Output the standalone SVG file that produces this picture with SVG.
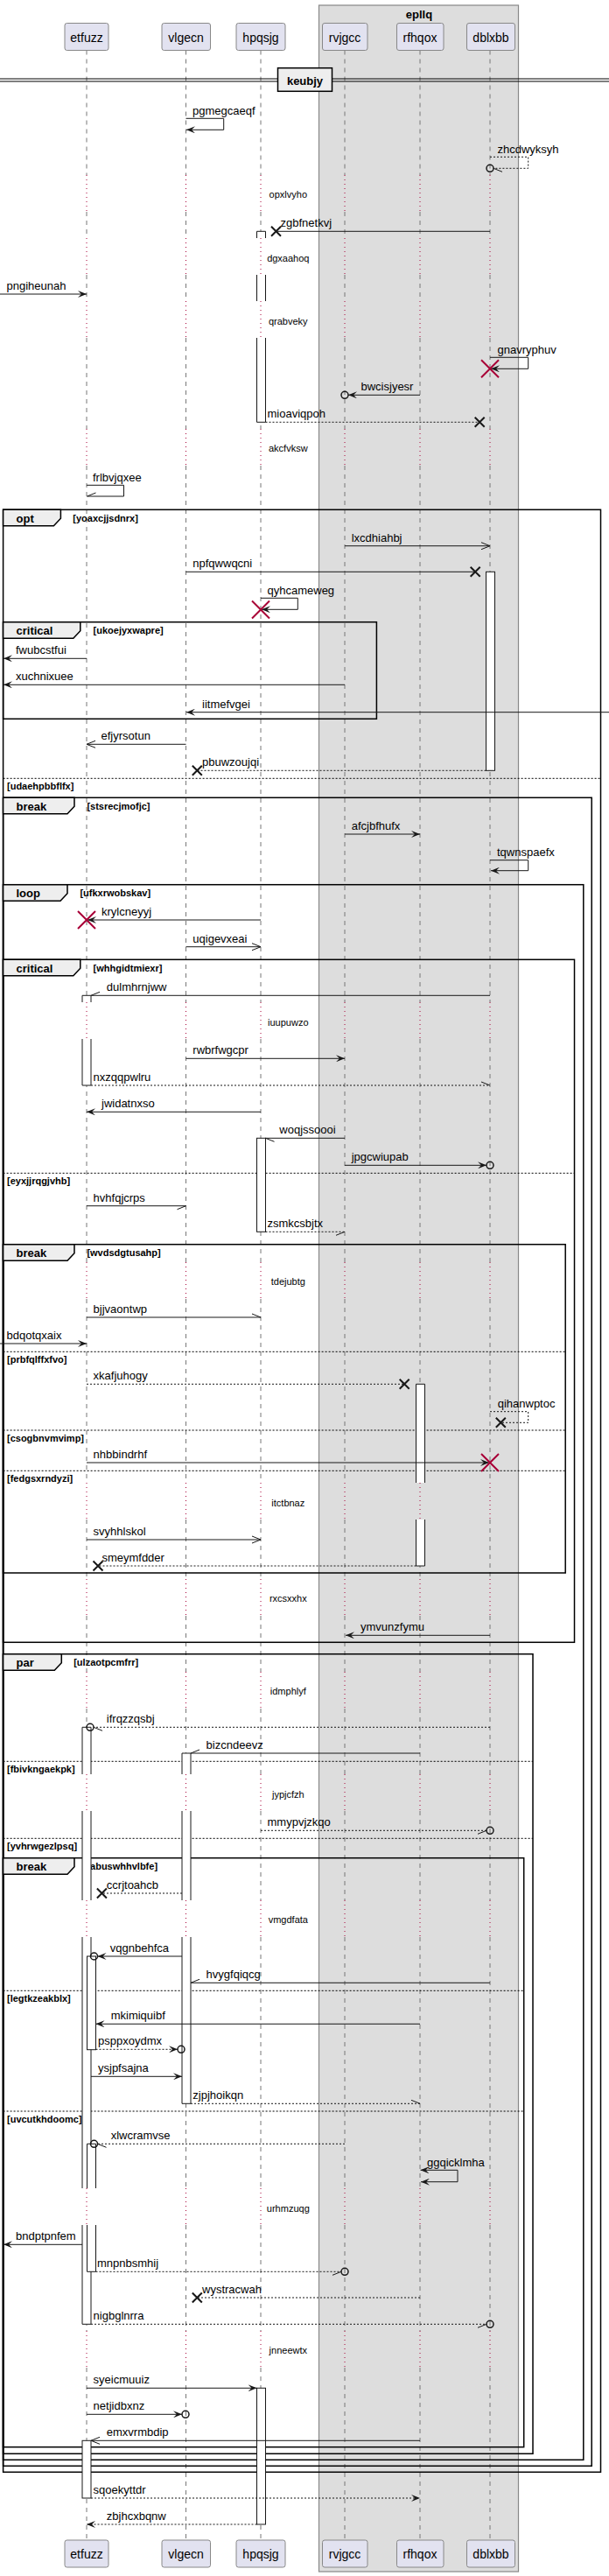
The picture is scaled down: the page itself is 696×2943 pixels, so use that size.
<svg xmlns="http://www.w3.org/2000/svg" width="696" height="2943" viewBox="0 0 696 2943">
<style>
text{font-family:"Liberation Sans",Arial,sans-serif;fill:#000}
.pn{font-size:14px;text-anchor:middle}
.lb{font-size:13px}
.dl{font-size:11px;text-anchor:middle}
.ft{font-size:13px;font-weight:bold}
.gd{font-size:11px;font-weight:bold}
.pbox{fill:#E2E2F0;stroke:#888;stroke-width:1}
.life{stroke:#777;stroke-width:1;stroke-dasharray:5 5;fill:none}
.dot{stroke:#A80036;stroke-width:1;stroke-dasharray:1 4;fill:none}
.actf{fill:#fff;stroke:none}
.acts{fill:none;stroke:#181818;stroke-width:1}
.m{fill:none;stroke:#181818;stroke-width:1}
.md{fill:none;stroke:#181818;stroke-width:1;stroke-dasharray:2 2}
.xk{stroke:#181818;stroke-width:2;fill:none}
.xr{stroke:#A80036;stroke-width:2;fill:none}
.oc{fill:none;stroke:#181818;stroke-width:1.5}
.fr{fill:none;stroke:#000;stroke-width:1.5}
.tab{fill:#EEEEEE;stroke:#000;stroke-width:1.5}
.el{stroke:#000;stroke-width:1;stroke-dasharray:2 2;fill:none}
</style>
<defs>
<marker id="af" viewBox="0 0 10 8" refX="10" refY="4" markerWidth="10" markerHeight="8" markerUnits="userSpaceOnUse" orient="auto"><path d="M0,0L10,4L0,8L4,4Z" fill="#181818"/></marker>
<marker id="afs" viewBox="0 0 10 8" refX="10" refY="4" markerWidth="10" markerHeight="8" markerUnits="userSpaceOnUse" orient="auto-start-reverse"><path d="M0,0L10,4L0,8L4,4Z" fill="#181818"/></marker>
<marker id="ao" viewBox="0 0 10 8" refX="10" refY="4" markerWidth="10" markerHeight="8" markerUnits="userSpaceOnUse" orient="auto" overflow="visible"><path d="M0,0L10,4L0,8" fill="none" stroke="#181818" stroke-width="1"/></marker>
<marker id="hu" viewBox="0 0 10 8" refX="10" refY="4" markerWidth="10" markerHeight="8" markerUnits="userSpaceOnUse" orient="auto" overflow="visible"><path d="M0,0L10,4" fill="none" stroke="#181818" stroke-width="1"/></marker>
<marker id="hd" viewBox="0 0 10 8" refX="10" refY="4" markerWidth="10" markerHeight="8" markerUnits="userSpaceOnUse" orient="auto" overflow="visible"><path d="M0,8L10,4" fill="none" stroke="#181818" stroke-width="1"/></marker>
<path id="ld" d="M0,57.5V200M0,242V272M0,314V344M0,386V490M0,532V1145M0,1187V1442M0,1484V1694M0,1736V1804M0,1846V1910M0,1952V2027M0,2069V2171M0,2213V2500M0,2542V2663M0,2705V2902"/>
<path id="lt" d="M0,200V242M0,272V314M0,344V386M0,490V532M0,1145V1187M0,1442V1484M0,1694V1736M0,1804V1846M0,1910V1952M0,2027V2069M0,2171V2213M0,2500V2542M0,2663V2705"/>
<path id="xk" d="M-5.5,-5.5L5.5,5.5M-5.5,5.5L5.5,-5.5"/>
<path id="xr" d="M-10,-10L10,10M-10,10L10,-10"/>
<circle id="oc" cx="0" cy="0" r="4"/>
</defs>
<rect x="0" y="0" width="696" height="2943" fill="#fff"/>
<g id="box-epllq">
<rect x="364.5" y="6" width="228" height="2932" fill="#DDDDDD" stroke="#888" stroke-width="1.2"/>
<text x="479" y="20.5" class="ft" text-anchor="middle">epllq</text>
</g>
<g id="lifelines">
<use href="#ld" x="99" class="life"/><use href="#lt" x="99" class="dot"/>
<use href="#ld" x="212.5" class="life"/><use href="#lt" x="212.5" class="dot"/>
<use href="#ld" x="298" class="life"/><use href="#lt" x="298" class="dot"/>
<use href="#ld" x="394" class="life"/><use href="#lt" x="394" class="dot"/>
<use href="#ld" x="480" class="life"/><use href="#lt" x="480" class="dot"/>
<use href="#ld" x="560" class="life"/><use href="#lt" x="560" class="dot"/>
</g>
<g id="p-etfuzz"><rect class="pbox" x="74" y="26.5" width="50" height="31" rx="2.5"/><text class="pn" x="99" y="47.5">etfuzz</text><rect class="pbox" x="74" y="2902" width="50" height="31" rx="2.5"/><text class="pn" x="99" y="2922.5">etfuzz</text></g>
<g id="p-vlgecn"><rect class="pbox" x="185" y="26.5" width="55.5" height="31" rx="2.5"/><text class="pn" x="212.5" y="47.5">vlgecn</text><rect class="pbox" x="185" y="2902" width="55.5" height="31" rx="2.5"/><text class="pn" x="212.5" y="2922.5">vlgecn</text></g>
<g id="p-hpqsjg"><rect class="pbox" x="270" y="26.5" width="56" height="31" rx="2.5"/><text class="pn" x="298" y="47.5">hpqsjg</text><rect class="pbox" x="270" y="2902" width="56" height="31" rx="2.5"/><text class="pn" x="298" y="2922.5">hpqsjg</text></g>
<g id="p-rvjgcc"><rect class="pbox" x="368.5" y="26.5" width="51.5" height="31" rx="2.5"/><text class="pn" x="394" y="47.5">rvjgcc</text><rect class="pbox" x="368.5" y="2902" width="51.5" height="31" rx="2.5"/><text class="pn" x="394" y="2922.5">rvjgcc</text></g>
<g id="p-rfhqox"><rect class="pbox" x="453.5" y="26.5" width="53.5" height="31" rx="2.5"/><text class="pn" x="480" y="47.5">rfhqox</text><rect class="pbox" x="453.5" y="2902" width="53.5" height="31" rx="2.5"/><text class="pn" x="480" y="2922.5">rfhqox</text></g>
<g id="p-dblxbb"><rect class="pbox" x="533.5" y="26.5" width="55" height="31" rx="2.5"/><text class="pn" x="561" y="47.5">dblxbb</text><rect class="pbox" x="533.5" y="2902" width="55" height="31" rx="2.5"/><text class="pn" x="561" y="2922.5">dblxbb</text></g>
<g id="divider-keubjy">
<path d="M0,90H696M0,93H696" stroke="#000" stroke-width="1" fill="none"/>
<rect x="317.5" y="77.7" width="62" height="26.6" fill="#EEEEEE" stroke="#000" stroke-width="1.5"/>
<text x="348.5" y="96.5" class="ft" text-anchor="middle">keubjy</text>
</g>
<g id="delays">
<text class="dl" x="329.3" y="225.7">opxlvyho</text>
<text class="dl" x="329.3" y="299">dgxaahoq</text>
<text class="dl" x="329.3" y="370.7">qrabveky</text>
<text class="dl" x="329.3" y="516.3">akcfvksw</text>
<text class="dl" x="329.3" y="1171.7">iuupuwzo</text>
<text class="dl" x="329.3" y="1467.7">tdejubtg</text>
<text class="dl" x="329.3" y="1720.7">itctbnaz</text>
<text class="dl" x="329.3" y="1830">rxcsxxhx</text>
<text class="dl" x="329.3" y="1935.7">idmphlyf</text>
<text class="dl" x="329.3" y="2054">jypjcfzh</text>
<text class="dl" x="329.3" y="2197.3">vmgdfata</text>
<text class="dl" x="329.3" y="2526.7">urhmzuqg</text>
<text class="dl" x="329.3" y="2689.3">jnneewtx</text>
</g>
<g id="fragments">
<rect class="fr" x="3.6" y="582.3" width="682.9" height="2242"/>
<polygon class="tab" points="3.6,582.3 69.4,582.3 69.4,592.3 61.4,600.8 3.6,600.8"/>
<text class="ft" x="18.5" y="596.8">opt</text><text class="gd" x="83.3" y="595.8">[yoaxcjjsdnrx]</text>
<rect class="fr" x="3.6" y="710.7" width="426.8" height="110.6"/>
<polygon class="tab" points="3.6,710.7 91.8,710.7 91.8,720.7 83.8,729.2 3.6,729.2"/>
<text class="ft" x="18.5" y="725.2">critical</text><text class="gd" x="106.6" y="724.2">[ukoejyxwapre]</text>
<path class="el" d="M3.6,889.3H686.5"/><text class="gd" x="8" y="902.3">[udaehpbbflfx]</text>
<rect class="fr" x="3.6" y="911.3" width="672.6" height="1906"/>
<polygon class="tab" points="3.6,911.3 85,911.3 85,921.3 77,929.8 3.6,929.8"/>
<text class="ft" x="18.5" y="925.8">break</text><text class="gd" x="99.4" y="924.8">[stsrecjmofjc]</text>
<rect class="fr" x="3.6" y="1010.7" width="663.2" height="1799.6"/>
<polygon class="tab" points="3.6,1010.7 77,1010.7 77,1020.7 69,1029.2 3.6,1029.2"/>
<text class="ft" x="18.5" y="1025.2">loop</text><text class="gd" x="91.4" y="1024.2">[ufkxrwobskav]</text>
<rect class="fr" x="3.6" y="1096.3" width="652.9" height="780"/>
<polygon class="tab" points="3.6,1096.3 91.8,1096.3 91.8,1106.3 83.8,1114.8 3.6,1114.8"/>
<text class="ft" x="18.5" y="1110.8">critical</text><text class="gd" x="106.6" y="1109.8">[whhgidtmiexr]</text>
<path class="el" d="M3.6,1340.3H656.5"/><text class="gd" x="8" y="1353.3">[eyxjjrqgjvhb]</text>
<rect class="fr" x="3.6" y="1421.7" width="642.6" height="375.3"/>
<polygon class="tab" points="3.6,1421.7 85,1421.7 85,1431.7 77,1440.2 3.6,1440.2"/>
<text class="ft" x="18.5" y="1436.2">break</text><text class="gd" x="99.4" y="1435.2">[wvdsdgtusahp]</text>
<path class="el" d="M3.6,1544.3H646.2"/><text class="gd" x="8" y="1557.3">[prbfqlffxfvo]</text>
<path class="el" d="M3.6,1634H646.2"/><text class="gd" x="8" y="1647">[csogbnvmvimp]</text>
<path class="el" d="M3.6,1680.3H646.2"/><text class="gd" x="8" y="1693.3">[fedgsxrndyzi]</text>
<rect class="fr" x="3.6" y="1889.7" width="605.4" height="913.6"/>
<polygon class="tab" points="3.6,1889.7 70.3,1889.7 70.3,1899.7 62.3,1908.2 3.6,1908.2"/>
<text class="ft" x="18.5" y="1904.2">par</text><text class="gd" x="84.2" y="1903.2">[ulzaotpcmfrr]</text>
<path class="el" d="M3.6,2012.3H609"/><text class="gd" x="8" y="2025.3">[fbivkngaekpk]</text>
<path class="el" d="M3.6,2100.3H609"/><text class="gd" x="8" y="2113.3">[yvhrwgezlpsq]</text>
<rect class="fr" x="3.6" y="2122.7" width="595.1" height="673"/>
<polygon class="tab" points="3.6,2122.7 85,2122.7 85,2132.7 77,2141.2 3.6,2141.2"/>
<text class="ft" x="18.5" y="2137.2">break</text><text class="gd" x="99.4" y="2136.2">[abuswhhvlbfe]</text>
<path class="el" d="M3.6,2274.3H598.7"/><text class="gd" x="8" y="2287.3">[legtkzeakblx]</text>
<path class="el" d="M3.6,2412H598.7"/><text class="gd" x="8" y="2425">[uvcutkhdoomc]</text>
</g>
<g id="activations">
<rect class="actf" x="293.5" y="264.3" width="10" height="7.7"/><rect class="actf" x="293.5" y="314" width="10" height="30"/><rect class="actf" x="293.5" y="386" width="10" height="96.3"/>
<path class="acts" d="M293.5,264.3H303.5M293.5,482.3H303.5M293.5,264.3V272M303.5,264.3V272M293.5,314V344M303.5,314V344M293.5,386V482.3M303.5,386V482.3"/>
<rect class="actf" x="555.5" y="653.3" width="10" height="227"/><rect class="acts" x="555.5" y="653.3" width="10" height="227"/>
<rect class="actf" x="94" y="1137.3" width="10" height="7.7"/><rect class="actf" x="94" y="1187" width="10" height="53"/>
<path class="acts" d="M94,1137.3H104M94,1240H104M94,1137.3V1145M104,1137.3V1145M94,1187V1240M104,1187V1240"/>
<rect class="actf" x="293.5" y="1300.3" width="10" height="107"/><rect class="acts" x="293.5" y="1300.3" width="10" height="107"/>
<rect class="actf" x="475.5" y="1581.3" width="10" height="112.7"/><rect class="actf" x="475.5" y="1736" width="10" height="53"/>
<path class="acts" d="M475.5,1581.3H485.5M475.5,1789H485.5M475.5,1581.3V1694M485.5,1581.3V1694M475.5,1736V1789M485.5,1736V1789"/>
<rect class="actf" x="94" y="1973.3" width="10" height="53.7"/><rect class="actf" x="94" y="2069" width="10" height="102"/><rect class="actf" x="94" y="2213" width="10" height="287"/><rect class="actf" x="94" y="2542" width="10" height="113.3"/>
<path class="acts" d="M94,1973.3H104M94,2655.3H104M94,1973.3V2027M104,1973.3V2027M94,2069V2171M104,2069V2171M94,2213V2500M104,2213V2500M94,2542V2655.3M104,2542V2655.3"/>
<rect class="actf" x="208" y="2003" width="10" height="24"/><rect class="actf" x="208" y="2069" width="10" height="102"/><rect class="actf" x="208" y="2213" width="10" height="190.3"/>
<path class="acts" d="M208,2003H218M208,2403.3H218M208,2003V2027M218,2003V2027M208,2069V2171M218,2069V2171M208,2213V2403.3M218,2213V2403.3"/>
<rect class="actf" x="99.5" y="2235" width="10" height="106.7"/><rect class="acts" x="99.5" y="2235" width="10" height="106.7"/>
<rect class="actf" x="99.5" y="2449.3" width="10" height="50.7"/><rect class="actf" x="99.5" y="2542" width="10" height="53.3"/>
<path class="acts" d="M99.5,2449.3H109.5M99.5,2595.3H109.5M99.5,2449.3V2500M109.5,2449.3V2500M99.5,2542V2595.3M109.5,2542V2595.3"/>
<rect class="actf" x="293.5" y="2728.3" width="10" height="155.7"/><rect class="acts" x="293.5" y="2728.3" width="10" height="155.7"/>
<rect class="actf" x="94" y="2788.3" width="10" height="65.7"/><rect class="acts" x="94" y="2788.3" width="10" height="65.7"/>
</g>
<g id="connectors">
<path class="m" d="M212.5,135.3H255.7V148.3H213" marker-end="url(#af)"/><text class="lb" x="220" y="130.8">pgmegcaeqf</text>
<path class="md" d="M560,179.3H603.7V192.3H564" marker-end="url(#hu)"/><use href="#oc" x="560" y="192.3" class="oc"/><text class="lb" x="568.5" y="174.8">zhcdwyksyh</text>
<path class="m" d="M560,264.3H315.5"/><use href="#xk" x="315.5" y="264.3" class="xk"/><text class="lb" x="320.5" y="259.3">zgbfnetkvj</text>
<path class="m" d="M0,336H99" marker-end="url(#af)"/><text class="lb" x="7.5" y="331">pngiheunah</text>
<path class="m" d="M560,408.3H603.7V421.3H561" marker-end="url(#af)"/><use href="#xr" x="560" y="421.3" class="xr"/><text class="lb" x="568.5" y="403.8">gnavryphuv</text>
<path class="m" d="M480,451.3H398" marker-end="url(#af)"/><use href="#oc" x="394" y="451.3" class="oc"/><text class="lb" x="412.5" y="446.3">bwcisjyesr</text>
<path class="md" d="M303.5,482.3H548.2"/><use href="#xk" x="548.2" y="482.3" class="xk"/><text class="lb" x="305.5" y="477.3">mioaviqpoh</text>
<path class="m" d="M99,554.3H141.5V567H99.5" marker-end="url(#hd)"/><text class="lb" x="106" y="549.8">frlbvjqxee</text>
<path class="m" d="M394,623.7H560" marker-end="url(#ao)"/><text class="lb" x="401.7" y="618.7">lxcdhiahbj</text>
<path class="m" d="M212.5,653.3H543.2"/><use href="#xk" x="543.2" y="653.3" class="xk"/><text class="lb" x="220.3" y="648.3">npfqwwqcni</text>
<path class="m" d="M298,683.3H340.3V696.3H299" marker-end="url(#af)"/><use href="#xr" x="298" y="696.5" class="xr"/><text class="lb" x="305.5" y="678.8">qyhcameweg</text>
<path class="m" d="M99,752.3H4" marker-end="url(#af)"/><text class="lb" x="18" y="747.3">fwubcstfui</text>
<path class="m" d="M394,782.3H4" marker-end="url(#af)"/><text class="lb" x="18" y="777.3">xuchnixuee</text>
<path class="m" d="M696,813.7H213" marker-end="url(#af)"/><text class="lb" x="231" y="808.7">iitmefvgei</text>
<path class="m" d="M212.5,850.3H99" marker-end="url(#ao)"/><text class="lb" x="115.5" y="845.3">efjyrsotun</text>
<path class="md" d="M555.5,880.3H225.3"/><use href="#xk" x="225.3" y="880.3" class="xk"/><text class="lb" x="231" y="875.3">pbuwzoujqi</text>
<path class="m" d="M394,953H480" marker-end="url(#af)"/><text class="lb" x="401.7" y="948">afcjbfhufx</text>
<path class="m" d="M560,982.7H603.7V994.7H561" marker-end="url(#af)"/><text class="lb" x="568" y="978.2">tqwnspaefx</text>
<path class="m" d="M298,1051H100" marker-end="url(#af)"/><use href="#xr" x="99" y="1051" class="xr"/><text class="lb" x="116" y="1046">krylcneyyj</text>
<path class="m" d="M212.5,1081.7H298" marker-end="url(#ao)"/><text class="lb" x="220.3" y="1076.7">uqigevxeai</text>
<path class="m" d="M560,1137.3H104" marker-end="url(#hd)"/><text class="lb" x="121.8" y="1132.3">dulmhrnjww</text>
<path class="m" d="M212.5,1209.3H394" marker-end="url(#af)"/><text class="lb" x="220.3" y="1204.3">rwbrfwgcpr</text>
<path class="md" d="M104,1240H560" marker-end="url(#hu)"/><text class="lb" x="106.6" y="1235">nxzqqpwlru</text>
<path class="m" d="M298,1270.3H99" marker-end="url(#af)"/><text class="lb" x="116" y="1265.3">jwidatnxso</text>
<path class="m" d="M394,1300.3H303.5" marker-end="url(#hu)"/><text class="lb" x="319.3" y="1295.3">woqjssoooi</text>
<path class="m" d="M394,1331.3H556" marker-end="url(#af)"/><use href="#oc" x="560" y="1331.3" class="oc"/><text class="lb" x="401.7" y="1326.3">jpgcwiupab</text>
<path class="m" d="M99,1377.7H212.5" marker-end="url(#hd)"/><text class="lb" x="106.6" y="1372.7">hvhfqjcrps</text>
<path class="md" d="M303.5,1407.3H394" marker-end="url(#hd)"/><text class="lb" x="305.5" y="1402.3">zsmkcsbjtx</text>
<path class="m" d="M99,1505H298" marker-end="url(#hu)"/><text class="lb" x="106.6" y="1500">bjjvaontwp</text>
<path class="m" d="M0,1535H99" marker-end="url(#af)"/><text class="lb" x="7.5" y="1530">bdqotqxaix</text>
<path class="md" d="M99,1581.3H462.2"/><use href="#xk" x="462.2" y="1581.3" class="xk"/><text class="lb" x="106.6" y="1576.3">xkafjuhogy</text>
<path class="md" d="M560,1612.7H603.7V1625.3H572.3"/><use href="#xk" x="572.3" y="1625.3" class="xk"/><text class="lb" x="568.7" y="1608.2">qihanwptoc</text>
<path class="m" d="M99,1671H559" marker-end="url(#af)"/><use href="#xr" x="560" y="1671" class="xr"/><text class="lb" x="106.6" y="1666">nhbbindrhf</text>
<path class="m" d="M99,1759H298" marker-end="url(#ao)"/><text class="lb" x="106.6" y="1754">svyhhlskol</text>
<path class="md" d="M475.5,1789H112"/><use href="#xk" x="112" y="1789" class="xk"/><text class="lb" x="116.4" y="1784">smeymfdder</text>
<path class="m" d="M560,1868.3H395" marker-end="url(#af)"/><text class="lb" x="412" y="1863.3">ymvunzfymu</text>
<path class="md" d="M560,1973.3H107" marker-end="url(#hu)"/><use href="#oc" x="103" y="1973.3" class="oc"/><text class="lb" x="121.8" y="1968.3">ifrqzzqsbj</text>
<path class="m" d="M480,2003H218" marker-end="url(#hd)"/><text class="lb" x="235.6" y="1998">bizcndeevz</text>
<path class="md" d="M298,2091.3H556" marker-end="url(#hd)"/><use href="#oc" x="560" y="2091.3" class="oc"/><text class="lb" x="305.5" y="2086.3">mmypvjzkqo</text>
<path class="md" d="M208,2163H116.4"/><use href="#xk" x="116.4" y="2163" class="xk"/><text class="lb" x="121.8" y="2158">ccrjtoahcb</text>
<path class="m" d="M208,2235H111.5" marker-end="url(#af)"/><use href="#oc" x="107.5" y="2235" class="oc"/><text class="lb" x="125.8" y="2230">vqgnbehfca</text>
<path class="m" d="M560,2265.3H218" marker-end="url(#hd)"/><text class="lb" x="235.6" y="2260.3">hvygfqiqcg</text>
<path class="m" d="M480,2312.3H109.5" marker-end="url(#af)"/><text class="lb" x="126.7" y="2307.3">mkimiquibf</text>
<path class="md" d="M109.5,2341.3H203" marker-end="url(#af)"/><use href="#oc" x="207" y="2341.3" class="oc"/><text class="lb" x="112" y="2336.3">psppxoydmx</text>
<path class="m" d="M104,2372.3H208" marker-end="url(#af)"/><text class="lb" x="112" y="2367.3">ysjpfsajna</text>
<path class="md" d="M218,2403.3H480" marker-end="url(#hu)"/><text class="lb" x="220.3" y="2398.3">zjpjhoikqn</text>
<path class="md" d="M394,2449.3H111.5" marker-end="url(#hu)"/><use href="#oc" x="107.5" y="2449.3" class="oc"/><text class="lb" x="126.7" y="2444.3">xlwcramvse</text>
<path class="m" d="M480.5,2479.3H523V2492.7H481" marker-start="url(#afs)" marker-end="url(#af)"/><text class="lb" x="488" y="2474.8">ggqicklmha</text>
<path class="m" d="M94,2564.3H4" marker-end="url(#af)"/><text class="lb" x="18" y="2559.3">bndptpnfem</text>
<path class="md" d="M109.5,2595.3H390" marker-end="url(#hd)"/><use href="#oc" x="394" y="2595.3" class="oc"/><text class="lb" x="111" y="2590.3">mnpnbsmhij</text>
<path class="md" d="M480,2625H225.3"/><use href="#xk" x="225.3" y="2625" class="xk"/><text class="lb" x="231" y="2620">wystracwah</text>
<path class="md" d="M104,2655.3H556" marker-end="url(#hd)"/><use href="#oc" x="560" y="2655.3" class="oc"/><text class="lb" x="106.6" y="2650.3">nigbglnrra</text>
<path class="m" d="M99,2728.3H293.5" marker-end="url(#af)"/><text class="lb" x="106.6" y="2723.3">syeicmuuiz</text>
<path class="m" d="M99,2758.3H208" marker-end="url(#af)"/><use href="#oc" x="212" y="2758.3" class="oc"/><text class="lb" x="106.6" y="2753.3">netjidbxnz</text>
<path class="m" d="M480,2788.3H104" marker-end="url(#ao)"/><text class="lb" x="121.8" y="2783.3">emxvrmbdip</text>
<path class="md" d="M104,2854H480" marker-end="url(#af)"/><text class="lb" x="106.6" y="2849">sqoekyttdr</text>
<path class="md" d="M293.5,2884H99" marker-end="url(#af)"/><text class="lb" x="121.8" y="2879">zbjhcxbqnw</text>
</g>
</svg>
